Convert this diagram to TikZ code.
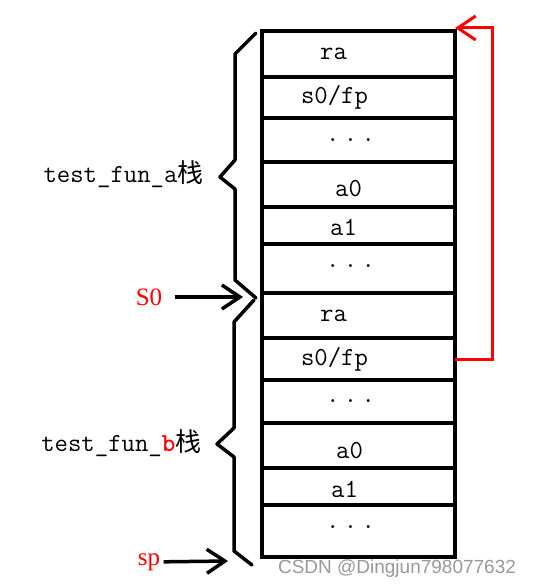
\documentclass[tikz,border=0pt]{standalone}
\usepackage{fontspec}
\setmainfont{Liberation Serif}
\setsansfont{Liberation Sans}
\newfontfamily\cjk{Noto Sans CJK SC}
\usetikzlibrary{arrows.meta}

\begin{document}
\begin{tikzpicture}[x=1pt, y=-1pt, >={Straight Barb[length=18pt,width=24pt]},
  font=\fontsize{26}{30}\selectfont\ttfamily,
  cell/.style={draw, line width=3.5pt, minimum width=193pt, outer sep=0pt, inner sep=0pt},
  brace/.style={line width=3.5pt, line join=round, line cap=round},
  ptr/.style={->, line width=3.5pt},
  regname/.style={text=red, font=\fontsize{25}{30}\selectfont\rmfamily},
  wmtext/.style={text=black!40, font=\fontsize{19}{22}\selectfont\sffamily}]
  \useasboundingbox (0,0) rectangle (533,588);
  % test_fun_a frame
  \node[cell, minimum height=46pt, label={[xshift=-25pt]center:ra}] (A1) at (358.5,54) {};
  \node[cell, minimum height=41pt, label={[xshift=-24pt]center:s0/fp}] (A2) at (358.5,97.5) {};
  \node[cell, minimum height=44pt, label={[xshift=-8pt]center:.\,.\,.}] (A3) at (358.5,140) {};
  \node[cell, minimum height=45pt, label={[xshift=-10pt,yshift=-4pt]center:a0}] (A4) at (358.5,184.5) {};
  \node[cell, minimum height=37pt, label={[xshift=-15pt,yshift=-2pt]center:a1}] (A5) at (358.5,225.5) {};
  \node[cell, minimum height=49pt, label={[xshift=-8pt,yshift=2pt]center:.\,.\,.}] (A6) at (358.5,268.5) {};
  % test_fun_b frame
  \node[cell, minimum height=45pt, label={[xshift=-25pt]center:ra}] (B1) at (358.5,315.5) {};
  \node[cell, minimum height=42pt, label={[xshift=-24pt]center:s0/fp}] (B2) at (358.5,359) {};
  \node[cell, minimum height=43pt, label={[xshift=-8pt]center:.\,.\,.}] (B3) at (358.5,401.5) {};
  \node[cell, minimum height=45pt, label={[xshift=-9pt,yshift=-5pt]center:a0}] (B4) at (358.5,445.5) {};
  \node[cell, minimum height=37pt, label={[xshift=-14pt,yshift=-3pt]center:a1}] (B5) at (358.5,486.5) {};
  \node[cell, minimum height=52pt, label={[xshift=-8pt,yshift=4pt]center:.\,.\,.}] (B6) at (358.5,531) {};

  % braces
  \draw[brace] (256,33) -- (235,54) -- (235,160) -- (220,177) -- (235,189) -- (235,280) -- (256,298);
  \draw[brace] (254,300) -- (234,322) -- (234,428) -- (217,444) -- (234,457) -- (234,551) -- (252,565);
  \node[anchor=east] (labA) at (207,174) {test\_fun\_a{\cjk 栈}};
  \node[anchor=east] (labB) at (205,443) {test\_fun\_{\color{red}\bfseries b}{\cjk 栈}};

  % pointers
  \node[regname] (S0) at (149,297) {S0};
  \node[regname] (sp) at (149,562) {sp};
  \coordinate (s0pt) at (243,297);
  \coordinate (sppt) at (228,561);
  \draw[ptr] (S0) -- (s0pt) [shorten <=9pt];
  \draw[ptr] (sp) -- (sppt);

  % saved s0 points back to the old frame
  \draw[->, red, line width=3pt] (B2.east) -- ++(37,0) |- ([yshift=3pt]A1.north east);

  \node[wmtext] (wm) at (397,569) {CSDN @Dingjun798077632};
\end{tikzpicture}
\end{document}
